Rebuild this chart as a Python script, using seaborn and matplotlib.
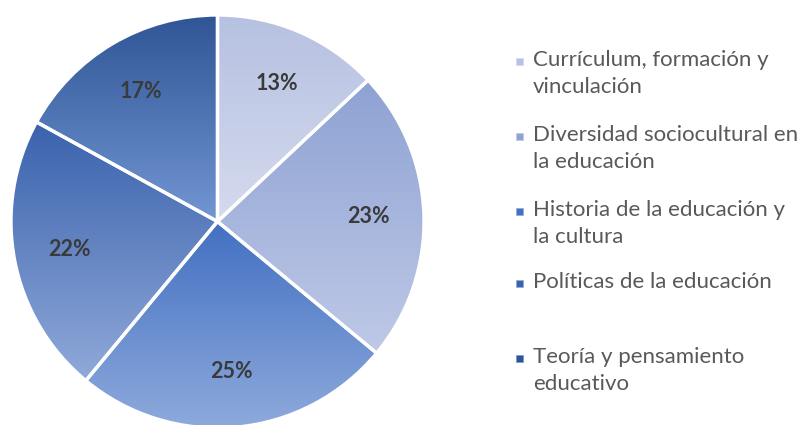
import numpy as np
import matplotlib
matplotlib.use("Agg")
import matplotlib.pyplot as plt
import seaborn as sns
from matplotlib.colors import LinearSegmentedColormap

sns.set_theme(style="white")
plt.rcParams['font.family'] = ['Lato', 'DejaVu Sans']

# data
categories = ["Currículum, formación y\nvinculación",
              "Diversidad sociocultural en\nla educación",
              "Historia de la educación y\nla cultura",
              "Políticas de la educación",
              "Teoría y pensamiento\neducativo"]
shares = [13, 23, 25, 22, 17]

# gradient (top, bottom) per slice
grad_top = ["#b6c1e1", "#8ea2d3", "#4270c2", "#3a62ad", "#2f5596"]
grad_bot = ["#d4daee", "#bfc9e7", "#8eaadc", "#90a9d9", "#7296d2"]

W, H = 799, 425
fig = plt.figure(figsize=(W / 100, H / 100), dpi=100)

cx, cy, R = 217.5, 221.5, 206.5
ax = fig.add_axes([(cx - R) / W, (H - cy - R) / H, 2 * R / W, 2 * R / H])

wedges, texts = ax.pie(shares, startangle=90, counterclock=False, radius=1,
                       labels=[f"{v}%" for v in shares], labeldistance=0.73,
                       wedgeprops=dict(edgecolor="white", linewidth=2.4, facecolor="none"),
                       textprops=dict(fontsize=15.5, fontweight="bold", color="#3a3a3a",
                                      ha="center", va="center"))

for i, w in enumerate(wedges):
    bb = w.get_path().get_extents()
    cmap = LinearSegmentedColormap.from_list(f"g{i}", [grad_bot[i], grad_top[i]])
    grad = np.linspace(0, 1, 256).reshape(-1, 1)
    im = ax.imshow(grad, cmap=cmap, origin="lower", aspect="auto",
                   extent=[bb.x0, bb.x1, bb.y0, bb.y1], zorder=0.5)
    im.set_clip_path(w)

ax.set_xlim(-1, 1)
ax.set_ylim(-1, 1)
ax.set_aspect("equal")
ax.axis("off")

# legend, drawn by hand to match the spacing
first_line_y = [60, 135, 210, 282, 357]
for lab, y, c_top, c_bot in zip(categories, first_line_y, grad_top, grad_bot):
    lines = lab.split("\n")
    for k, ln in enumerate(lines):
        fig.text(533 / W, 1 - (y + 27 * k) / H, ln, fontsize=16, color="#595959",
                 ha="left", va="center")
    sq = 7
    fig.patches.append(plt.Rectangle(((519 - sq / 2) / W, 1 - (y + 1 + sq / 2) / H),
                                     sq / W, sq / H, transform=fig.transFigure,
                                     facecolor=c_top, edgecolor=c_bot, linewidth=0.5))

fig.savefig("out.png", dpi=100)
